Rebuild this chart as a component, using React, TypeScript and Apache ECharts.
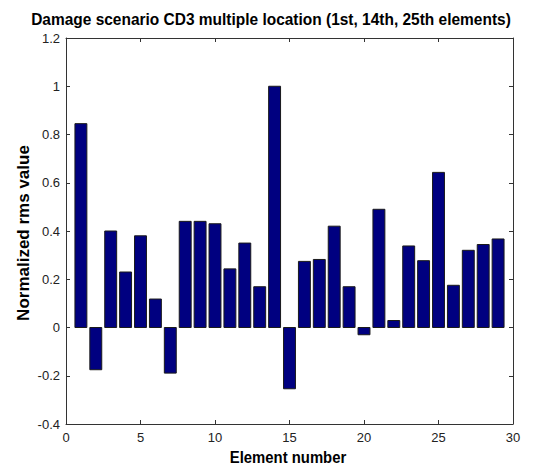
import React, { useEffect, useRef } from "react";
import * as echarts from "echarts";

// Normalized rms value for each element (1..29)
const elements = [
  1, 2, 3, 4, 5, 6, 7, 8, 9, 10, 11, 12, 13, 14, 15, 16, 17, 18, 19, 20, 21,
  22, 23, 24, 25, 26, 27, 28, 29,
];
const rmsValues = [
  0.845, -0.175, 0.4, 0.23, 0.38, 0.118, -0.189, 0.44, 0.44, 0.43, 0.243, 0.35,
  0.169, 1.0, -0.254, 0.274, 0.282, 0.42, 0.169, -0.03, 0.49, 0.029, 0.338,
  0.277, 0.643, 0.175, 0.32, 0.344, 0.367,
];

const xTicks = { min: 0, max: 30, interval: 5 };
const yTicks = { min: -0.4, max: 1.2, interval: 0.2 };

const titleText = "Damage scenario CD3 multiple location (1st, 14th, 25th elements)";
const xLabel = "Element number";
const yLabel = "Normalized rms value";

const BAR_WIDTH = 0.8;
const SANS = "'Liberation Sans', Arial, Helvetica, sans-serif";
const AXIS_COLOR = "#333";

const fmt = (v: number) => String(+v.toFixed(1));

// One axis of the boxed frame; only the bottom and left ones carry labels.
function frameAxis(position: string, range: object, labelled: boolean, margin: number) {
  return {
    type: "value",
    position,
    ...range,
    axisLine: { show: true, onZero: false, lineStyle: { color: AXIS_COLOR, width: 1 } },
    axisTick: { show: true, inside: true, length: 4, lineStyle: { color: AXIS_COLOR, width: 1 } },
    splitLine: { show: false },
    axisLabel: labelled
      ? { show: true, fontFamily: SANS, fontSize: 13, color: "#222", margin, formatter: fmt }
      : { show: false },
  };
}

export default function App() {
  const ref = useRef<HTMLDivElement>(null);

  useEffect(() => {
    if (!ref.current) return;
    const chart = echarts.init(ref.current, undefined, { renderer: "svg" });

    chart.setOption({
      animation: false,
      backgroundColor: "#fff",
      grid: { left: 66, right: 36, top: 38, bottom: 42, containLabel: false },
      xAxis: [
        frameAxis("bottom", xTicks, true, 7),
        frameAxis("top", xTicks, false, 0),
      ],
      yAxis: [
        frameAxis("left", yTicks, true, 6),
        frameAxis("right", yTicks, false, 0),
      ],
      graphic: [
        {
          type: "text",
          x: 271,
          y: 19,
          scaleX: 0.91,
          style: {
            text: titleText,
            fontFamily: SANS,
            fontWeight: "bold",
            fontSize: 17,
            fill: "#000",
            align: "center",
            verticalAlign: "middle",
          },
        },
        {
          type: "text",
          x: 288,
          y: 457,
          scaleX: 0.93,
          style: {
            text: xLabel,
            fontFamily: SANS,
            fontWeight: "bold",
            fontSize: 16,
            fill: "#000",
            align: "center",
            verticalAlign: "middle",
          },
        },
        {
          type: "text",
          x: 23,
          y: 233,
          rotation: Math.PI / 2,
          style: {
            text: yLabel,
            fontFamily: SANS,
            fontWeight: "bold",
            fontSize: 17,
            fill: "#000",
            align: "center",
            verticalAlign: "middle",
          },
        },
      ],
      series: [
        {
          type: "custom",
          xAxisIndex: 0,
          yAxisIndex: 0,
          data: elements.map((e, i) => [e, rmsValues[i]]),
          encode: { x: 0, y: 1 },
          renderItem: (_params: any, api: any) => {
            const x = api.value(0);
            const y = api.value(1);
            const p0 = api.coord([x - BAR_WIDTH / 2, Math.max(y, 0)]);
            const p1 = api.coord([x + BAR_WIDTH / 2, Math.min(y, 0)]);
            return {
              type: "rect",
              shape: { x: p0[0], y: p0[1], width: p1[0] - p0[0], height: p1[1] - p0[1] },
              style: { fill: "#000080", stroke: "#1a1a1a", lineWidth: 1 },
            };
          },
        },
        // Empty companions so the top and right frame axes are laid out.
        { type: "custom", xAxisIndex: 1, yAxisIndex: 1, data: [], renderItem: () => null },
      ],
    });

    return () => chart.dispose();
  }, []);

  return (
    <div
      ref={ref}
      style={{ position: "fixed", left: 0, top: 0, width: 549, height: 466 }}
    />
  );
}
